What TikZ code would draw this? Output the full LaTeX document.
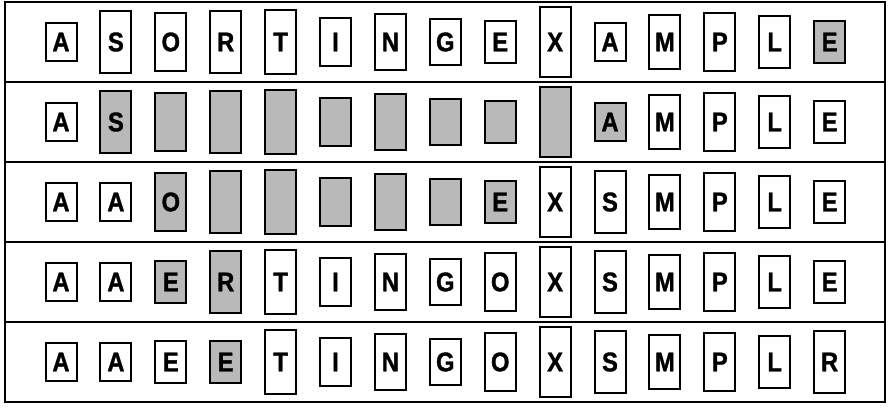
\documentclass[tikz,border=0pt]{standalone}
\usepackage{fontspec}
\setmainfont{Liberation Sans}
\newfontfamily\cellfont[FakeStretch=0.88,FakeBold=1.2]{Liberation Sans}
\begin{document}
\begin{tikzpicture}[x=1pt,y=-1pt,
  cell/.style={draw, line width=2pt, minimum width=31pt, inner sep=0pt,
    font=\cellfont\fontsize{27}{27}\selectfont\bfseries},
  rule/.style={line width=1.5pt}]
\useasboundingbox (0,0) rectangle (888,407);
\draw[rule] (5,2) rectangle (885,402);
\foreach \yl in {82,162,242,322}{
  \draw[rule] (5,\yl) -- (885,\yl);
}
\foreach \r/\lst in {
 1/{A/1/0,S/19/0,O/15/0,R/18/0,T/20/0,I/9/0,N/14/0,G/7/0,E/5/0,X/24/0,A/1/0,M/13/0,P/16/0,L/12/0,E/5/1},
 2/{A/1/0,S/19/1,O/15/2,R/18/2,T/20/2,I/9/2,N/14/2,G/7/2,E/5/2,X/24/2,A/1/1,M/13/0,P/16/0,L/12/0,E/5/0},
 3/{A/1/0,A/1/0,O/15/1,R/18/2,T/20/2,I/9/2,N/14/2,G/7/2,E/5/1,X/24/0,S/19/0,M/13/0,P/16/0,L/12/0,E/5/0},
 4/{A/1/0,A/1/0,E/5/1,R/18/1,T/20/0,I/9/0,N/14/0,G/7/0,O/15/0,X/24/0,S/19/0,M/13/0,P/16/0,L/12/0,E/5/0},
 5/{A/1/0,A/1/0,E/5/0,E/5/1,T/20/0,I/9/0,N/14/0,G/7/0,O/15/0,X/24/0,S/19/0,M/13/0,P/16/0,L/12/0,R/18/0}}{
  \foreach \L/\v/\s [count=\c from 0] in \lst {
    \pgfmathsetmacro\hh{35.6+1.43*\v}
    \pgfmathsetmacro\xx{61+54.9*\c}
    \pgfmathsetmacro\yy{42+80*(\r-1)}
    \ifcase\s \def\fc{white}\def\tx{\L}\or\def\fc{gray!55}\def\tx{\L}\or\def\fc{gray!55}\def\tx{}\fi
    \node[cell, minimum height=\hh pt, fill=\fc] (r\r c\c) at (\xx,\yy) {\tx};
  }
}
\end{tikzpicture}
\end{document}
